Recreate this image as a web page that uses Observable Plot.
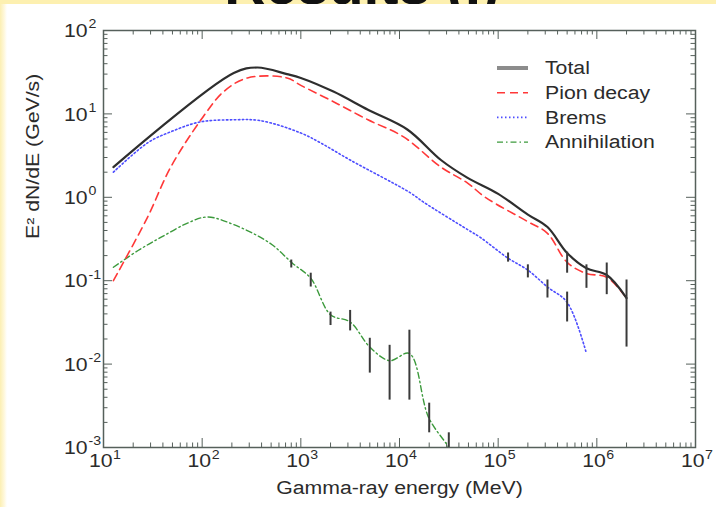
<!DOCTYPE html>
<html><head><meta charset="utf-8">
<script src="https://cdn.jsdelivr.net/npm/d3@7"></script>
<script src="https://cdn.jsdelivr.net/npm/@observablehq/plot@0.6"></script>
<style>
html,body{margin:0;padding:0;background:#fff;}
#page{position:relative;width:716px;height:507px;overflow:hidden;background:#fff;font-family:"Liberation Sans",Arial,sans-serif;}
#strip{position:absolute;left:0;top:0;width:7px;height:507px;background:linear-gradient(to right,#fcefb2,#fff8dc 60%,#fff);}
#band{position:absolute;left:0;top:0;width:716px;height:4px;overflow:hidden;background:#fdf0b0;z-index:2;}
#band svg{display:block;overflow:hidden;}
#chart{position:absolute;left:0;top:0;z-index:1;}
</style></head><body>
<div id="page">
<div id="strip"></div>
<div id="band"><svg width="716" height="4"><text x="362" y="3.5" text-anchor="middle" font-size="57" font-weight="bold" font-family="Liberation Sans, Arial" fill="#111">Results (I)</text></svg></div>
<div id="chart"></div>
</div>
<script>
// ---- data (E in MeV, E^2 dN/dE in GeV/s) ----
const totalE = [12.6, 209, 363, 724, 1000, 2140, 4790, 12000, 26300, 49000, 100000, 200000, 316000, 500000, 785000, 1260000, 2000000];
const totalV = [2.3, 31, 36, 30, 27, 18.5, 11.2, 6.5, 2.8, 1.71, 1.1, 0.62, 0.44, 0.215, 0.141, 0.117, 0.062];

const pionE = [12.6, 28, 48, 102, 166, 288, 724, 1000, 2140, 4790, 11000, 26300, 49000, 74000, 200000, 316000, 500000, 785000, 1260000, 2000000];
const pionV = [0.10, 0.58, 2.3, 9.2, 18.6, 27, 27, 22, 14, 8.5, 5.3, 2.3, 1.48, 1.0, 0.51, 0.37, 0.166, 0.122, 0.11, 0.062];

const bremsE = [12.6, 28, 48, 95, 209, 390, 1000, 1580, 3160, 12900, 17400, 49000, 66000, 126000, 200000, 316000, 500000, 785000];
const bremsV = [2.0, 4.5, 6.1, 8.0, 8.5, 8.3, 5.9, 4.5, 2.8, 1.13, 0.88, 0.41, 0.33, 0.186, 0.134, 0.084, 0.055, 0.0134];

const annE = [12.6, 22.4, 38, 71, 112, 209, 490, 822, 1260, 2000, 3160, 5000, 7940, 12600, 19700, 31600, 40000];
const annV = [0.145, 0.23, 0.33, 0.49, 0.58, 0.47, 0.28, 0.162, 0.107, 0.039, 0.032, 0.016, 0.011, 0.0134, 0.0023, 0.001, 0.0006];

const errE  = [800, 1260, 2000, 3160, 5000, 7940, 12600, 20000, 31600, 126000, 200000, 316000, 500000, 500000, 785000, 1260000, 2000000];
const errLo = [0.142, 0.084, 0.029, 0.025, 0.0078, 0.0037, 0.0037, 0.0015, 0.0008, 0.167, 0.108, 0.062, 0.032, 0.123, 0.081, 0.068, 0.016];
const errHi = [0.177, 0.123, 0.042, 0.044, 0.0204, 0.0168, 0.0255, 0.0034, 0.0015, 0.215, 0.155, 0.102, 0.073, 0.22, 0.155, 0.163, 0.102];

const xExps = [1, 2, 3, 4, 5, 6, 7];
const yExps = [-3, -2, -1, 0, 1, 2];
const legendLabels = ["Total", "Pion decay", "Brems", "Annihilation"];
const xTitle = "Gamma-ray energy (MeV)";
const yTitle = "E² dN/dE (GeV/s)";

// ---- build ----
const series = (E, V) => E.map((e, i) => ({E: e, V: V[i]}));
const total = series(totalE, totalV);
const pion = series(pionE, pionV);
const brems = series(bremsE, bremsV);
const ann = series(annE, annV);
const errs = errE.map((e, i) => ({E: e, lo: errLo[i], hi: errHi[i]}));

const W = 716, H = 507, mL = 103, mR = 21, mT = 30, mB = 60;
const fw = W - mL - mR, fh = H - mT - mB;
const xMajor = xExps.map(d => 10 ** d);
const xMinor = [];
for (let d = 1; d < 7; d++) for (let k = 2; k < 10; k++) xMinor.push(k * 10 ** d);
const yMajor = yExps.map(d => 10 ** d);
const yMinor = [];
for (let d = -3; d < 2; d++) for (let k = 2; k < 10; k++) yMinor.push(k * 10 ** d);

const tickCol = "#56605b";
const txt = "#2b2b2b";
const colors = {total: "#2e2e2e", pion: "#ff3838", brems: "#4d4dff", ann: "#3c9a3c"};
const styles = [
  {stroke: "#8c8c8c", width: 4, dash: null},
  {stroke: colors.pion, width: 1.6, dash: "8,5"},
  {stroke: colors.brems, width: 1.6, dash: "1.5,2.5"},
  {stroke: colors.ann, width: 1.4, dash: "6,3,1.5,3"}
];

const plot = Plot.plot({
  width: W, height: H,
  marginLeft: mL, marginRight: mR, marginTop: mT, marginBottom: mB,
  style: {background: "transparent", fontFamily: "Liberation Sans, Arial, sans-serif", overflow: "visible"},
  x: {type: "log", domain: [10, 1e7], axis: null},
  y: {type: "log", domain: [1e-3, 1e2], axis: null},
  marks: [
    Plot.ruleX(xMajor, {x: d => d, insetTop: fh - 9, stroke: tickCol}),
    Plot.ruleX(xMajor, {x: d => d, insetBottom: fh - 9, stroke: tickCol}),
    Plot.ruleX(xMinor, {x: d => d, insetTop: fh - 4.5, stroke: tickCol}),
    Plot.ruleX(xMinor, {x: d => d, insetBottom: fh - 4.5, stroke: tickCol}),
    Plot.ruleY(yMajor, {y: d => d, insetRight: fw - 9, stroke: tickCol}),
    Plot.ruleY(yMajor, {y: d => d, insetLeft: fw - 9, stroke: tickCol}),
    Plot.ruleY(yMinor, {y: d => d, insetRight: fw - 4.5, stroke: tickCol}),
    Plot.ruleY(yMinor, {y: d => d, insetLeft: fw - 4.5, stroke: tickCol}),
    Plot.line(brems, {x: "E", y: "V", stroke: colors.brems, strokeWidth: 1.6, strokeDasharray: "1.5,2.5", curve: "catmull-rom", clip: true}),
    Plot.line(ann, {x: "E", y: "V", stroke: colors.ann, strokeWidth: 1.4, strokeDasharray: "6,3,1.5,3", curve: "catmull-rom", clip: true}),
    Plot.line(pion, {x: "E", y: "V", stroke: colors.pion, strokeWidth: 1.6, strokeDasharray: "8,5", curve: "catmull-rom", clip: true}),
    Plot.line(total, {x: "E", y: "V", stroke: colors.total, strokeWidth: 2.2, curve: "catmull-rom", clip: true}),
    Plot.ruleX(errs, {x: "E", y1: "lo", y2: "hi", stroke: "#3a3a3a", strokeWidth: 2, clip: true}),
    Plot.frame({stroke: tickCol, strokeWidth: 1.5}),
    Plot.text(xExps, {x: d => 10 ** d, frameAnchor: "bottom", text: () => "10", textAnchor: "end", dx: 9, dy: 19, fontSize: 18, fill: txt}),
    Plot.text(xExps, {x: d => 10 ** d, frameAnchor: "bottom", text: d => String(d), textAnchor: "start", dx: 9.5, dy: 11, fontSize: 12, fill: txt}),
    Plot.text(yExps, {y: d => 10 ** d, frameAnchor: "left", text: () => "10", textAnchor: "end", dx: -16, dy: 1, fontSize: 18, fill: txt}),
    Plot.text(yExps, {y: d => 10 ** d, frameAnchor: "left", text: d => String(d), textAnchor: "start", dx: -15, dy: -6, fontSize: 12, fill: txt}),
    Plot.text([xTitle], {frameAnchor: "bottom", text: d => d, dy: 46, fontSize: 18, fill: txt}),
    Plot.text([yTitle], {frameAnchor: "left", text: d => d, dx: -70, rotate: -90, fontSize: 18, fill: txt})
  ]
});
document.getElementById("chart").appendChild(plot);

// legend
const svg = d3.select(plot);
const leg = svg.append("g").attr("text-anchor", "start");
legendLabels.forEach((lab, i) => {
  const y = 68 + i * 24.7;
  const s = styles[i];
  const l = leg.append("line").attr("x1", 497).attr("x2", 528).attr("y1", y).attr("y2", y)
    .attr("stroke", s.stroke).attr("stroke-width", s.width);
  if (s.dash) l.attr("stroke-dasharray", s.dash);
  leg.append("text").attr("x", 545).attr("y", y).attr("dy", "0.35em")
    .attr("text-anchor", "start").attr("font-size", 18).attr("fill", txt).text(lab);
});

// horizontally widen the text glyphs as in the reference
svg.selectAll("text").each(function () {
  if (this.querySelector("tspan")) return;
  const L = this.getComputedTextLength();
  if (L > 0) {
    this.setAttribute("textLength", (L * 1.18).toFixed(2));
    this.setAttribute("lengthAdjust", "spacingAndGlyphs");
  }
});
</script>
</body></html>
